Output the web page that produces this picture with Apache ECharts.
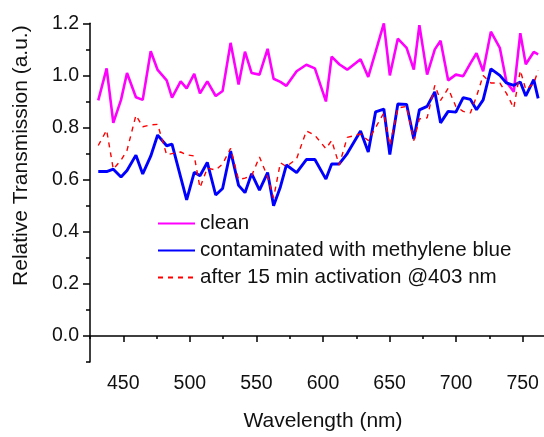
<!DOCTYPE html>
<html>
<head>
<meta charset="utf-8">
<script src="https://cdn.jsdelivr.net/npm/echarts@6/dist/echarts.min.js"></script>
<style>
  html, body { margin: 0; padding: 0; background: #fff; }
  #chart { width: 544px; height: 437px; }
</style>
</head>
<body>
<div id="chart"></div>
<script>
// Wavelength samples (nm)
const wavelength = [431.2, 437.5, 442.5, 448.3, 452.8, 459.5, 464.6, 470.6, 475.8, 482.6,
  486.6, 493.1, 497.6, 503.3, 507.6, 513.1, 519.4, 524.6, 530.6, 536.6,
  541.4, 546.4, 552.3, 558.4, 562.9, 568.0, 572.5, 580.2, 587.5, 593.9,
  602.2, 606.5, 612.2, 618.2, 628.2, 634.0, 639.5, 645.7, 650.2, 656.2,
  662.8, 668.2, 672.4, 678.2, 684.0, 688.3, 694.0, 699.8, 705.3, 710.7,
  715.3, 720.3, 726.1, 732.8, 737.8, 743.3, 748.2, 752.3, 758.3, 761.6];

// Relative transmission of the clean fibre
const clean = [0.904, 1.027, 0.818, 0.906, 1.009, 0.916, 0.906, 1.093, 1.021, 0.981,
  0.915, 0.977, 0.950, 1.006, 0.931, 0.977, 0.921, 0.940, 1.125, 0.965,
  1.091, 1.009, 1.003, 1.102, 0.987, 0.975, 0.960, 1.016, 1.041, 1.027,
  0.900, 1.072, 1.043, 1.022, 1.062, 0.994, 1.090, 1.200, 1.000, 1.141,
  1.106, 1.022, 1.193, 1.003, 1.100, 1.133, 0.981, 1.003, 0.997, 1.046,
  1.085, 1.016, 1.168, 1.106, 0.975, 0.937, 1.162, 1.043, 1.090, 1.081];

// Contaminated with methylene blue
const contaminated = [0.631, 0.631, 0.640, 0.610, 0.635, 0.694, 0.622, 0.690, 0.771, 0.730,
  0.736, 0.610, 0.522, 0.628, 0.615, 0.666, 0.541, 0.566, 0.710, 0.578,
  0.550, 0.623, 0.560, 0.627, 0.500, 0.572, 0.656, 0.627, 0.677, 0.677,
  0.602, 0.660, 0.660, 0.700, 0.787, 0.706, 0.860, 0.871, 0.696, 0.890,
  0.889, 0.756, 0.868, 0.881, 0.937, 0.818, 0.862, 0.859, 0.915, 0.908,
  0.868, 0.906, 1.025, 1.000, 0.971, 0.962, 0.975, 0.921, 0.984, 0.912];

// After 15 min activation at 403 nm
const activated = [0.731, 0.790, 0.640, 0.675, 0.712, 0.847, 0.803, 0.810, 0.812, 0.695,
  0.700, 0.706, 0.695, 0.691, 0.569, 0.644, 0.637, 0.660, 0.720, 0.600,
  0.606, 0.615, 0.687, 0.610, 0.530, 0.665, 0.650, 0.680, 0.787, 0.770,
  0.719, 0.750, 0.656, 0.762, 0.775, 0.750, 0.800, 0.856, 0.731, 0.875,
  0.881, 0.750, 0.833, 0.837, 0.962, 0.904, 0.950, 0.881, 0.862, 0.856,
  0.919, 1.000, 0.971, 0.971, 0.931, 0.875, 1.019, 0.946, 0.969, 1.019];

const seriesNames = ['clean', 'contaminated with methylene blue', 'after 15 min activation @403 nm'];

// Axis ticks
const xMajorTicks = [450, 500, 550, 600, 650, 700, 750];
const xMinorTicks = [425, 475, 525, 575, 625, 675, 725];
const yMajorTicks = [0, 0.2, 0.4, 0.6, 0.8, 1.0, 1.2];
const yMinorTicks = [-0.1, 0.1, 0.3, 0.5, 0.7, 0.9, 1.1];

const FONT = '"Liberation Sans", Arial, sans-serif';
const X_MIN = 425, X_MAX = 766, Y_MIN = -0.1, Y_MAX = 1.2;

const pairs = (ys) => wavelength.map((w, i) => [w, ys[i]]);

const chart = echarts.init(document.getElementById('chart'), null, { renderer: 'canvas' });

chart.setOption({
  animation: false,
  backgroundColor: '#ffffff',
  grid: { left: 90, right: 0, top: 23.3, bottom: 67, containLabel: false },
  legend: {
    orient: 'vertical',
    left: 152,
    top: 208,
    itemWidth: 37,
    itemHeight: 20,
    itemGap: 6,
    data: seriesNames,
    // line-only legend keys (hide the marker dot)
    itemStyle: { opacity: 0 },
    textStyle: { fontSize: 20.6, color: '#111', fontFamily: FONT }
  },
  xAxis: [
    {
      type: 'value', min: X_MIN, max: X_MAX,
      name: 'Wavelength (nm)', nameLocation: 'middle', nameGap: 49,
      nameTextStyle: { fontSize: 21, color: '#111', fontFamily: FONT, padding: [0, 0, 0, 12] },
      axisLine: { show: true, lineStyle: { color: '#000', width: 1.5 } },
      axisTick: { show: true, customValues: xMajorTicks, length: 6, inside: false, lineStyle: { color: '#000', width: 1.5 } },
      axisLabel: { show: true, customValues: xMajorTicks, fontSize: 19.5, color: '#111', fontFamily: FONT, margin: 12 },
      splitLine: { show: false }
    },
    {
      type: 'value', min: X_MIN, max: X_MAX, position: 'bottom',
      axisLine: { show: false },
      axisTick: { show: true, customValues: xMinorTicks, length: 3, lineStyle: { color: '#000', width: 1.5 } },
      axisLabel: { show: false },
      splitLine: { show: false }
    }
  ],
  yAxis: [
    {
      type: 'value', min: Y_MIN, max: Y_MAX,
      name: 'Relative Transmission (a.u.)', nameLocation: 'middle', nameGap: 58,
      nameTextStyle: { fontSize: 21, color: '#111', fontFamily: FONT, padding: [0, 0, 0, 74] },
      axisLine: { show: true, lineStyle: { color: '#000', width: 1.5 } },
      axisTick: { show: true, customValues: yMajorTicks, length: 7, lineStyle: { color: '#000', width: 1.5 } },
      axisLabel: {
        show: true, customValues: yMajorTicks, fontSize: 19.5, color: '#111', fontFamily: FONT, margin: 11,
        formatter: (v) => Number(v).toFixed(1)
      },
      splitLine: { show: false }
    },
    {
      type: 'value', min: Y_MIN, max: Y_MAX, position: 'left',
      axisLine: { show: false },
      axisTick: { show: true, customValues: yMinorTicks, length: 4, lineStyle: { color: '#000', width: 1.5 } },
      axisLabel: { show: false },
      splitLine: { show: false }
    }
  ],
  series: [
    {
      name: seriesNames[0], type: 'line', data: pairs(clean),
      showSymbol: false, symbol: 'none',
      lineStyle: { color: '#ff00ff', width: 2.6 }, itemStyle: { color: '#ff00ff' }
    },
    {
      name: seriesNames[1], type: 'line', data: pairs(contaminated),
      showSymbol: false, symbol: 'none',
      lineStyle: { color: '#0000ff', width: 2.9 }, itemStyle: { color: '#0000ff' }
    },
    {
      name: seriesNames[2], type: 'line', data: pairs(activated),
      showSymbol: false, symbol: 'none',
      lineStyle: { color: '#ff0000', width: 1.4, type: [5, 5] }, itemStyle: { color: '#ff0000' }
    }
  ]
});
</script>
</body>
</html>
